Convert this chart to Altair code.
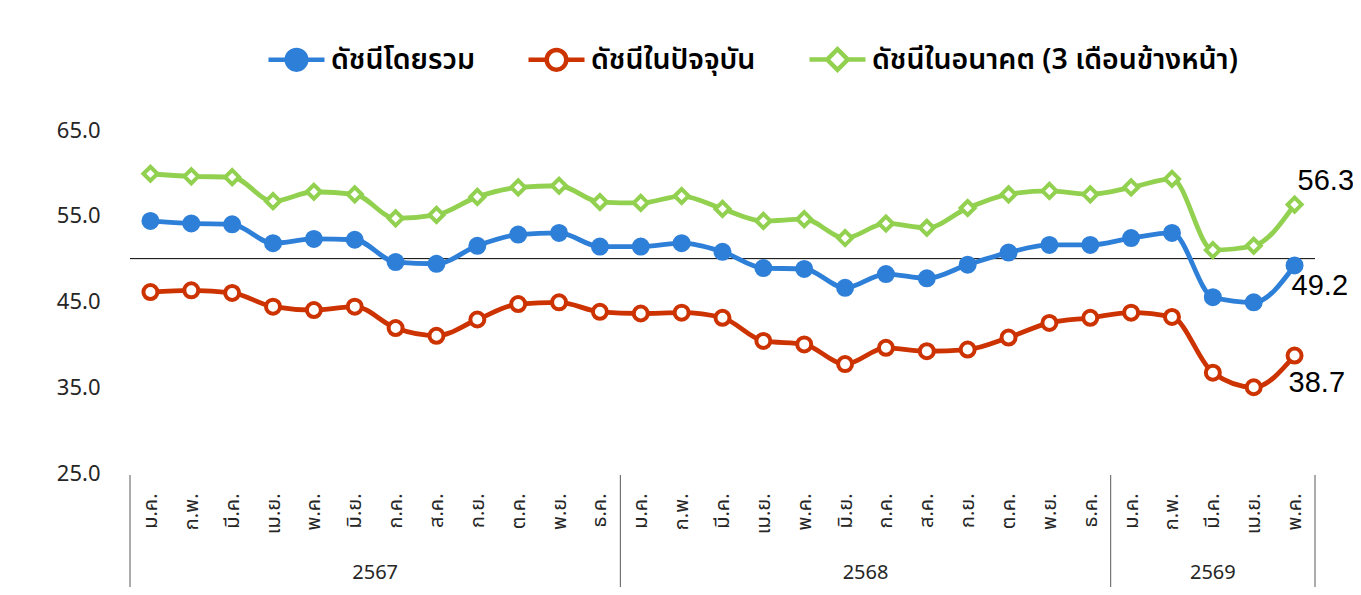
import altair as alt
import pandas as pd

# ---- data ----
months = ['ม.ค.', 'ก.พ.', 'มี.ค.', 'เม.ย.', 'พ.ค.', 'มิ.ย.', 'ก.ค.', 'ส.ค.', 'ก.ย.', 'ต.ค.', 'พ.ย.', 'ธ.ค.']
year_names = ['2567', '2568', '2569']
year_counts = [12, 12, 5]
series_names = ['ดัชนีโดยรวม', 'ดัชนีในปัจจุบัน', 'ดัชนีในอนาคต (3 เดือนข้างหน้า)']

overall = [54.4, 54.1, 54.0, 51.8, 52.3, 52.2, 49.6, 49.4, 51.5, 52.8, 53.0, 51.4,
           51.4, 51.8, 50.8, 48.9, 48.8, 46.6, 48.2, 47.7, 49.3, 50.7, 51.6, 51.6,
           52.4, 53.0, 45.5, 44.9, 49.2]
current = [46.1, 46.3, 46.0, 44.4, 44.0, 44.4, 41.9, 41.0, 42.9, 44.7, 44.9, 43.8,
           43.6, 43.7, 43.1, 40.4, 40.0, 37.7, 39.6, 39.2, 39.4, 40.8, 42.5, 43.1,
           43.7, 43.2, 36.7, 35.0, 38.7]
future = [59.9, 59.6, 59.5, 56.7, 57.8, 57.5, 54.7, 55.1, 57.2, 58.3, 58.5, 56.6,
          56.5, 57.3, 55.8, 54.4, 54.6, 52.4, 54.1, 53.6, 55.9, 57.5, 57.9, 57.5,
          58.3, 59.3, 51.0, 51.5, 56.3]

y_ticks = [25, 35, 45, 55, 65]
ref_value = 50

# ---- styling ----
colors = ['#2E7FD8', '#CC3300', '#92D050']
fills = ['#2E7FD8', '#FFFFFF', '#FFFFFF']
point_shapes = ['circle', 'circle', 'diamond']
point_sizes = [196, 196, 380]
legend_paths = [
    'M-1,0L-0.35,0M0.35,0L1,0M-0.35,0A0.35,0.35,0,1,0,0.35,0A0.35,0.35,0,1,0,-0.35,0Z',
    'M-1,0L-0.35,0M0.35,0L1,0M-0.35,0A0.35,0.35,0,1,0,0.35,0A0.35,0.35,0,1,0,-0.35,0Z',
    'M-1,0L-0.37,0M0.37,0L1,0M-0.37,0L0,-0.37L0.37,0L0,0.37Z',
]
FONT = "'Noto Sans Thai', 'Noto Sans', sans-serif"
NUM_FONT = "Noto Sans"

# ---- tables ----
n = len(overall)
rows = []
for s, vals in zip(series_names, [overall, current, future]):
    for i, v in enumerate(vals):
        rows.append({'idx': i, 'series': s, 'value': v})
df = pd.DataFrame(rows)

bounds = [-0.5]
mids = []
start = 0
for c in year_counts:
    mids.append(start + (c - 1) / 2)
    start += c
    bounds.append(start - 0.5)
years_df = pd.DataFrame({'pos': mids, 'year': year_names})
sep_df = pd.DataFrame({'pos': bounds})
legend_df = pd.DataFrame({'series': series_names})

month_expr = '[' + ','.join("'%s'" % m for m in months) + '][datum.value % 12]'

x_scale = alt.Scale(domain=[-0.5, n - 0.5], nice=False, zero=False)
y_scale = alt.Scale(domain=[25, 65], nice=False, zero=False)

x_axis = alt.Axis(values=list(range(n)), labelExpr=month_expr, labelAngle=270,
                  labelPadding=20, ticks=False, domain=False, grid=False,
                  labelFontSize=20, labelColor='#262626', labelFont=FONT,
                  labelOverlap=False, labelFlush=False, title=None)
y_axis = alt.Axis(values=y_ticks, format='.1f', grid=False, ticks=False,
                  domain=False, labelFontSize=22, labelPadding=30,
                  labelColor='#262626', labelFont=NUM_FONT, title=None)

x_enc = alt.X('idx:Q', scale=x_scale, axis=x_axis)
y_enc = alt.Y('value:Q', scale=y_scale, axis=y_axis)

base = alt.Chart(df)

lines = base.mark_line(interpolate='monotone', strokeWidth=4.8).encode(
    x=x_enc, y=y_enc,
    color=alt.Color('series:N', scale=alt.Scale(domain=series_names, range=colors), legend=None),
    order=alt.Order('idx:Q'),
)

points = base.mark_point(opacity=1, strokeWidth=4).encode(
    x=alt.X('idx:Q', axis=x_axis), y=alt.Y('value:Q', axis=y_axis),
    stroke=alt.Stroke('series:N', scale=alt.Scale(domain=series_names, range=colors), legend=None),
    fill=alt.Fill('series:N', scale=alt.Scale(domain=series_names, range=fills), legend=None),
    shape=alt.Shape('series:N', scale=alt.Scale(domain=series_names, range=point_shapes), legend=None),
    size=alt.Size('series:N', scale=alt.Scale(domain=series_names, range=point_sizes), legend=None),
)

ref = alt.Chart(pd.DataFrame({'v': [ref_value]})).mark_rule(color='black', strokeWidth=1).encode(
    y=alt.Y('v:Q', axis=y_axis)
)

leg = alt.Legend(orient='none', legendX=136, legendY=-101, direction='horizontal', title=None,
                 labelFontSize=28.5, labelFontWeight=600, labelFont=FONT, labelColor='#000000',
                 symbolSize=3136, symbolStrokeWidth=4.5, columnPadding=44, labelOffset=4,
                 padding=0, symbolOpacity=1, labelLimit=0)
legend_layer = alt.Chart(legend_df).mark_point(clip=True, opacity=1).encode(
    x=alt.value(-2000), y=alt.value(-2000),
    stroke=alt.Stroke('series:N', scale=alt.Scale(domain=series_names, range=colors), legend=leg),
    fill=alt.Fill('series:N', scale=alt.Scale(domain=series_names, range=fills), legend=leg),
    shape=alt.Shape('series:N', scale=alt.Scale(domain=series_names, range=legend_paths), legend=leg),
)

seps = alt.Chart(sep_df).mark_rule(color='#595959', strokeWidth=1).encode(
    x=alt.X('pos:Q', axis=x_axis), y=alt.value(345), y2=alt.value(462)
)
year_text = alt.Chart(years_df).mark_text(fontSize=20, font=NUM_FONT, color='#262626', baseline='middle').encode(
    x=alt.X('pos:Q', axis=x_axis), y=alt.value(443), text='year:N'
)

last = df[df['idx'] == n - 1]


def end_label(series, dx, dy):
    return alt.Chart(last[last['series'] == series]).mark_text(
        align='left', baseline='middle', dx=dx, dy=dy, fontSize=29,
        font='Liberation Sans', color='black'
    ).encode(x=alt.X('idx:Q', axis=x_axis), y=alt.Y('value:Q', axis=y_axis),
             text=alt.Text('value:Q', format='.1f'))


lab_future = end_label(series_names[2], 3, -24)
lab_overall = end_label(series_names[0], -3, 21)
lab_current = end_label(series_names[1], -6, 27)

chart = alt.layer(
    ref, lines, points, legend_layer, seps, year_text, lab_future, lab_overall, lab_current
).resolve_scale(
    color='independent', stroke='independent', fill='independent', shape='independent', size='independent'
).properties(
    width=1185, height=343,
    background='white',
    autosize=alt.AutoSizeParams(type='none'),
    padding={'left': 122, 'top': 122, 'right': 38, 'bottom': 114},
).configure_view(stroke=None)

chart.save('out.html', embed_options={'renderer': 'svg', 'actions': False})
